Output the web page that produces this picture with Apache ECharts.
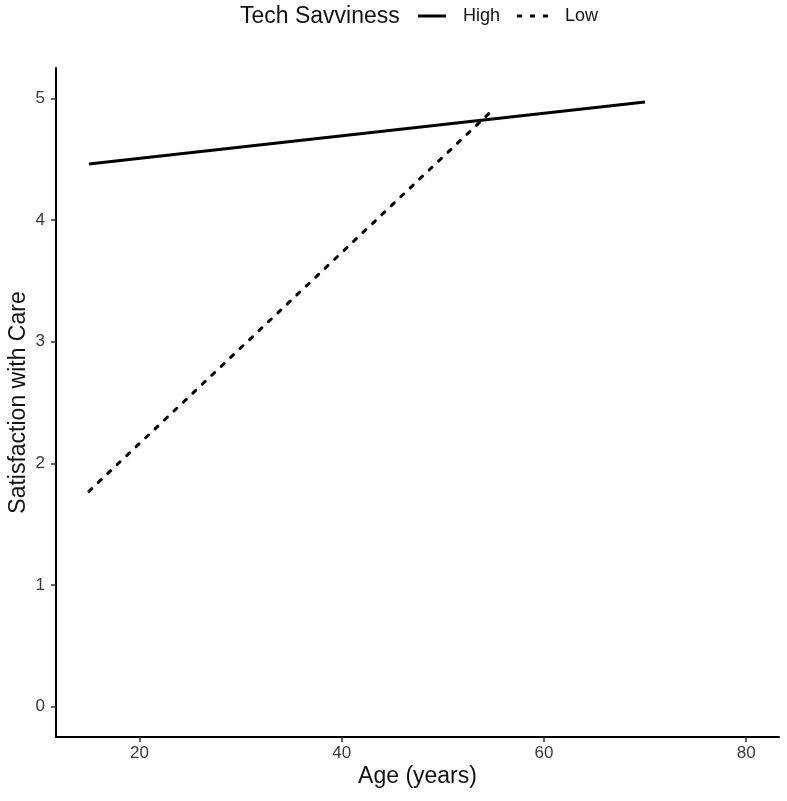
<!DOCTYPE html>
<html><head><meta charset="utf-8">
<script src="https://cdn.jsdelivr.net/npm/echarts@6/dist/echarts.min.js"></script>
<style>html,body{margin:0;padding:0;background:#fff}#c{width:787px;height:801px}</style>
</head><body><div id="c"></div>
<script>
const highAge = [15, 70];
const highSat = [4.46, 4.97];
const lowAge = [15, 55];
const lowSat = [1.77, 4.91];
const xTicks = [20, 40, 60, 80];
const yTicks = [0, 1, 2, 3, 4, 5];

const xMin = 11.75, xMax = 83.25, yMin = -0.25, yMax = 5.25;
const G = {left: 56, right: 8, top: 68, bottom: 64};
const W = 787 - G.left - G.right, H = 801 - G.top - G.bottom;
const tx0 = xTicks[0], tx1 = xTicks[xTicks.length - 1];
const ty0 = yTicks[0], ty1 = yTicks[yTicks.length - 1];

const chart = echarts.init(document.getElementById('c'));
const font = 'Liberation Sans, Arial, sans-serif';
const legendText = {fontFamily: font, fontSize: 18, color: '#111', padding: [0, 0, 0, 12]};
const tickStyle = {show: true, length: 5, lineStyle: {color: '#333', width: 1.5}};
const labelStyle = {fontSize: 17, color: '#3a3a3a', fontFamily: font};
chart.setOption({
  animation: false,
  textStyle: {fontFamily: font},
  grid: [
    Object.assign({outerBoundsMode: 'none', containLabel: false}, G),
    {outerBoundsMode: 'none', containLabel: false,
     left: G.left + (tx0 - xMin) / (xMax - xMin) * W, right: G.right + (xMax - tx1) / (xMax - xMin) * W,
     top: G.top, bottom: G.bottom},
    {outerBoundsMode: 'none', containLabel: false,
     left: G.left, right: G.right,
     top: G.top + (yMax - ty1) / (yMax - yMin) * H, bottom: G.bottom + (ty0 - yMin) / (yMax - yMin) * H}
  ],
  title: {text: 'Tech Savviness', left: 235, top: 0, textStyle: {fontFamily: font, fontSize: 23, fontWeight: 'normal', color: '#111'}},
  legend: [
    {left: 413, top: 2, itemWidth: 28, itemHeight: 3, textStyle: legendText,
     data: [{name: 'High', icon: 'path://M0,0H28V3H0Z'}]},
    {left: 512, top: 2, itemWidth: 31, itemHeight: 3, textStyle: legendText,
     data: [{name: 'Low', icon: 'path://M0,0H5V3H0Z M13,0H18V3H13Z M26,0H31V3H26Z'}]}
  ],
  xAxis: [
    {gridIndex: 0, type: 'value', min: xMin, max: xMax,
     name: 'Age (years)', nameLocation: 'middle', nameGap: 28,
     nameTextStyle: {fontSize: 23, color: '#111', fontFamily: font},
     axisLine: {onZero: false, lineStyle: {color: '#000', width: 2}},
     axisTick: {show: false}, axisLabel: {show: false}, splitLine: {show: false}},
    {gridIndex: 1, type: 'value', min: tx0, max: tx1, interval: 20,
     axisLine: {show: false, onZero: false}, axisTick: tickStyle,
     axisLabel: Object.assign({margin: 8}, labelStyle), splitLine: {show: false}},
    {gridIndex: 2, type: 'value', min: xMin, max: xMax, show: false}
  ],
  yAxis: [
    {gridIndex: 0, type: 'value', min: yMin, max: yMax,
     name: 'Satisfaction with Care', nameLocation: 'middle', nameGap: 26,
     nameTextStyle: {fontSize: 23, color: '#111', fontFamily: font},
     axisLine: {show: true, onZero: false, lineStyle: {color: '#000', width: 2}},
     axisTick: {show: false}, axisLabel: {show: false}, splitLine: {show: false}},
    {gridIndex: 1, type: 'value', min: yMin, max: yMax, show: false},
    {gridIndex: 2, type: 'value', min: ty0, max: ty1, interval: 1,
     axisLine: {show: false, onZero: false}, axisTick: tickStyle,
     axisLabel: Object.assign({margin: 11}, labelStyle), splitLine: {show: false}}
  ],
  series: [
    {name: 'High', type: 'line', symbol: 'none', xAxisIndex: 0, yAxisIndex: 0,
     data: highAge.map((a, i) => [a, highSat[i]]),
     lineStyle: {color: '#000', width: 3}, itemStyle: {color: '#000'}},
    {name: 'Low', type: 'line', symbol: 'none', xAxisIndex: 0, yAxisIndex: 0,
     data: lowAge.map((a, i) => [a, lowSat[i]]),
     lineStyle: {color: '#000', width: 3, type: [4, 9], cap: 'round'}, itemStyle: {color: '#000'}}
  ]
});
</script></body></html>
